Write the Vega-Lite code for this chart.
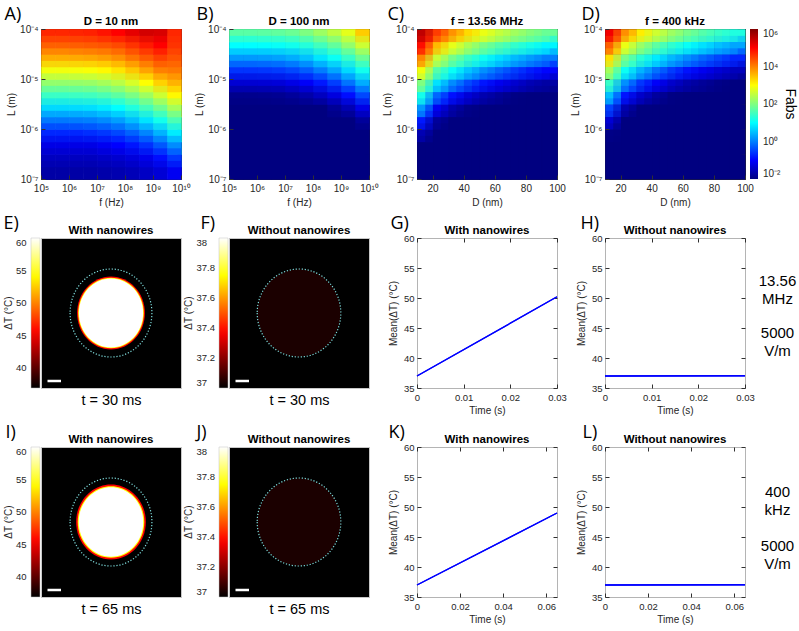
{
"$schema":"https://vega.github.io/schema/vega-lite/v6.json",
"padding":{"left":2,"top":4,"right":2,"bottom":2},
"columns":4,
"bounds":"flush",
"spacing":{"row":59,"column":48},
"resolve":{"scale":{"color":"independent","stroke":"independent","x":"independent","y":"independent"},"legend":{"color":"independent"}},
"config":{
 "font":"Liberation Sans",
 "view":{"stroke":"#262626"},
 "title":{"font":"Liberation Sans","fontSize":11.5,"fontWeight":"bold","offset":3,"dy":25,"anchor":"middle","color":"black"},
 "axis":{"labelFont":"Liberation Sans","labelFontSize":9.5,"labelColor":"#262626","titleFont":"Liberation Sans","titleFontSize":10,"titleFontWeight":"normal","titleColor":"#262626","grid":false,"domain":false,"tickSize":-4,"tickColor":"#303030","labelFlush":false,"labelOverlap":false},
 "axisX":{"labelPadding":8,"titlePadding":4},
 "axisY":{"labelPadding":7,"titlePadding":3},
 "axisTop":{"labels":false,"titleAlign":"left","titleBaseline":"alphabetic","titleAngle":0,"titleFont":"Open Sans","titleFontSize":18,"titleFontWeight":"normal","titleColor":"black","titleY":-10},
 "axisRight":{"labels":false},
 "legend":{"labelFont":"Liberation Sans","titleFont":"Liberation Sans","labelFontSize":9.5,"labelColor":"#262626","titleColor":"#262626","labelOverlap":false,"titleFontWeight":"normal"}
},
"datasets":{
"A":[
{"x":5,"y":-7,"v":-1.7},{"x":5,"y":-6.75,"v":-1.5},{"x":5,"y":-6.5,"v":-1.2},{"x":5,"y":-6.25,"v":-0.7},{"x":5,"y":-6,"v":-0.05},{"x":5,"y":-5.75,"v":0.7},{"x":5,"y":-5.5,"v":1.45},{"x":5,"y":-5.25,"v":2.15},{"x":5,"y":-5,"v":2.9},{"x":5,"y":-4.75,"v":3.65},{"x":5,"y":-4.5,"v":4.25},{"x":5,"y":-4.25,"v":4.7},
{"x":5.5,"y":-7,"v":-1.7},{"x":5.5,"y":-6.75,"v":-1.5},{"x":5.5,"y":-6.5,"v":-1.2},{"x":5.5,"y":-6.25,"v":-0.7},{"x":5.5,"y":-6,"v":-0.05},{"x":5.5,"y":-5.75,"v":0.7},{"x":5.5,"y":-5.5,"v":1.45},{"x":5.5,"y":-5.25,"v":2.15},{"x":5.5,"y":-5,"v":2.9},{"x":5.5,"y":-4.75,"v":3.65},{"x":5.5,"y":-4.5,"v":4.25},{"x":5.5,"y":-4.25,"v":4.7},
{"x":6,"y":-7,"v":-1.7},{"x":6,"y":-6.75,"v":-1.5},{"x":6,"y":-6.5,"v":-1.2},{"x":6,"y":-6.25,"v":-0.7},{"x":6,"y":-6,"v":-0.03},{"x":6,"y":-5.75,"v":0.72},{"x":6,"y":-5.5,"v":1.47},{"x":6,"y":-5.25,"v":2.17},{"x":6,"y":-5,"v":2.92},{"x":6,"y":-4.75,"v":3.67},{"x":6,"y":-4.5,"v":4.27},{"x":6,"y":-4.25,"v":4.72},
{"x":6.5,"y":-7,"v":-1.7},{"x":6.5,"y":-6.75,"v":-1.5},{"x":6.5,"y":-6.5,"v":-1.2},{"x":6.5,"y":-6.25,"v":-0.65},{"x":6.5,"y":-6,"v":0},{"x":6.5,"y":-5.75,"v":0.75},{"x":6.5,"y":-5.5,"v":1.5},{"x":6.5,"y":-5.25,"v":2.2},{"x":6.5,"y":-5,"v":2.95},{"x":6.5,"y":-4.75,"v":3.7},{"x":6.5,"y":-4.5,"v":4.3},{"x":6.5,"y":-4.25,"v":4.75},
{"x":7,"y":-7,"v":-1.66},{"x":7,"y":-6.75,"v":-1.44},{"x":7,"y":-6.5,"v":-1.1},{"x":7,"y":-6.25,"v":-0.57},{"x":7,"y":-6,"v":0.1},{"x":7,"y":-5.75,"v":0.85},{"x":7,"y":-5.5,"v":1.59},{"x":7,"y":-5.25,"v":2.3},{"x":7,"y":-5,"v":3.05},{"x":7,"y":-4.75,"v":3.77},{"x":7,"y":-4.5,"v":4.34},{"x":7,"y":-4.25,"v":4.85},
{"x":7.5,"y":-7,"v":-1.62},{"x":7.5,"y":-6.75,"v":-1.38},{"x":7.5,"y":-6.5,"v":-1},{"x":7.5,"y":-6.25,"v":-0.44},{"x":7.5,"y":-6,"v":0.25},{"x":7.5,"y":-5.75,"v":1},{"x":7.5,"y":-5.5,"v":1.73},{"x":7.5,"y":-5.25,"v":2.45},{"x":7.5,"y":-5,"v":3.2},{"x":7.5,"y":-4.75,"v":3.89},{"x":7.5,"y":-4.5,"v":4.43},{"x":7.5,"y":-4.25,"v":5},
{"x":8,"y":-7,"v":-1.56},{"x":8,"y":-6.75,"v":-1.28},{"x":8,"y":-6.5,"v":-0.84},{"x":8,"y":-6.25,"v":-0.23},{"x":8,"y":-6,"v":0.49},{"x":8,"y":-5.75,"v":1.25},{"x":8,"y":-5.5,"v":1.96},{"x":8,"y":-5.25,"v":2.69},{"x":8,"y":-5,"v":3.44},{"x":8,"y":-4.75,"v":4.09},{"x":8,"y":-4.5,"v":4.6},{"x":8,"y":-4.25,"v":5.2},
{"x":8.5,"y":-7,"v":-1.46},{"x":8.5,"y":-6.75,"v":-1.15},{"x":8.5,"y":-6.5,"v":-0.62},{"x":8.5,"y":-6.25,"v":0.04},{"x":8.5,"y":-6,"v":0.79},{"x":8.5,"y":-5.75,"v":1.53},{"x":8.5,"y":-5.5,"v":2.24},{"x":8.5,"y":-5.25,"v":2.99},{"x":8.5,"y":-5,"v":3.72},{"x":8.5,"y":-4.75,"v":4.3},{"x":8.5,"y":-4.5,"v":4.8},{"x":8.5,"y":-4.25,"v":5.35},
{"x":9,"y":-7,"v":-1.32},{"x":9,"y":-6.75,"v":-0.9},{"x":9,"y":-6.5,"v":-0.32},{"x":9,"y":-6.25,"v":0.4},{"x":9,"y":-6,"v":1.15},{"x":9,"y":-5.75,"v":1.87},{"x":9,"y":-5.5,"v":2.6},{"x":9,"y":-5.25,"v":3.35},{"x":9,"y":-5,"v":4},{"x":9,"y":-4.75,"v":4.5},{"x":9,"y":-4.5,"v":5},{"x":9,"y":-4.25,"v":5.3},
{"x":9.5,"y":-7,"v":-1.1},{"x":9.5,"y":-6.75,"v":-0.57},{"x":9.5,"y":-6.5,"v":0.1},{"x":9.5,"y":-6.25,"v":0.85},{"x":9.5,"y":-6,"v":1.59},{"x":9.5,"y":-5.75,"v":2.3},{"x":9.5,"y":-5.5,"v":3.05},{"x":9.5,"y":-5.25,"v":3.6},{"x":9.5,"y":-5,"v":4.05},{"x":9.5,"y":-4.75,"v":4.35},{"x":9.5,"y":-4.5,"v":4.6},{"x":9.5,"y":-4.25,"v":4.7}
],
"B":[
{"x":5,"y":-7,"v":-2.5},{"x":5,"y":-6.75,"v":-2.5},{"x":5,"y":-6.5,"v":-2.5},{"x":5,"y":-6.25,"v":-2.5},{"x":5,"y":-6,"v":-2.5},{"x":5,"y":-5.75,"v":-2.3},{"x":5,"y":-5.5,"v":-1.9},{"x":5,"y":-5.25,"v":-1.35},{"x":5,"y":-5,"v":-0.6},{"x":5,"y":-4.75,"v":0.2},{"x":5,"y":-4.5,"v":1},{"x":5,"y":-4.25,"v":1.7},
{"x":5.5,"y":-7,"v":-2.5},{"x":5.5,"y":-6.75,"v":-2.5},{"x":5.5,"y":-6.5,"v":-2.5},{"x":5.5,"y":-6.25,"v":-2.5},{"x":5.5,"y":-6,"v":-2.5},{"x":5.5,"y":-5.75,"v":-2.3},{"x":5.5,"y":-5.5,"v":-1.9},{"x":5.5,"y":-5.25,"v":-1.35},{"x":5.5,"y":-5,"v":-0.6},{"x":5.5,"y":-4.75,"v":0.2},{"x":5.5,"y":-4.5,"v":1},{"x":5.5,"y":-4.25,"v":1.7},
{"x":6,"y":-7,"v":-2.5},{"x":6,"y":-6.75,"v":-2.5},{"x":6,"y":-6.5,"v":-2.5},{"x":6,"y":-6.25,"v":-2.5},{"x":6,"y":-6,"v":-2.5},{"x":6,"y":-5.75,"v":-2.29},{"x":6,"y":-5.5,"v":-1.88},{"x":6,"y":-5.25,"v":-1.33},{"x":6,"y":-5,"v":-0.58},{"x":6,"y":-4.75,"v":0.22},{"x":6,"y":-4.5,"v":1.02},{"x":6,"y":-4.25,"v":1.72},
{"x":6.5,"y":-7,"v":-2.5},{"x":6.5,"y":-6.75,"v":-2.5},{"x":6.5,"y":-6.5,"v":-2.5},{"x":6.5,"y":-6.25,"v":-2.5},{"x":6.5,"y":-6,"v":-2.5},{"x":6.5,"y":-5.75,"v":-2.27},{"x":6.5,"y":-5.5,"v":-1.86},{"x":6.5,"y":-5.25,"v":-1.3},{"x":6.5,"y":-5,"v":-0.54},{"x":6.5,"y":-4.75,"v":0.26},{"x":6.5,"y":-4.5,"v":1.06},{"x":6.5,"y":-4.25,"v":1.76},
{"x":7,"y":-7,"v":-2.5},{"x":7,"y":-6.75,"v":-2.5},{"x":7,"y":-6.5,"v":-2.5},{"x":7,"y":-6.25,"v":-2.5},{"x":7,"y":-6,"v":-2.46},{"x":7,"y":-5.75,"v":-2.22},{"x":7,"y":-5.5,"v":-1.79},{"x":7,"y":-5.25,"v":-1.2},{"x":7,"y":-5,"v":-0.44},{"x":7,"y":-4.75,"v":0.36},{"x":7,"y":-4.5,"v":1.14},{"x":7,"y":-4.25,"v":1.84},
{"x":7.5,"y":-7,"v":-2.5},{"x":7.5,"y":-6.75,"v":-2.5},{"x":7.5,"y":-6.5,"v":-2.5},{"x":7.5,"y":-6.25,"v":-2.5},{"x":7.5,"y":-6,"v":-2.4},{"x":7.5,"y":-5.75,"v":-2.14},{"x":7.5,"y":-5.5,"v":-1.68},{"x":7.5,"y":-5.25,"v":-1.05},{"x":7.5,"y":-5,"v":-0.28},{"x":7.5,"y":-4.75,"v":0.52},{"x":7.5,"y":-4.5,"v":1.28},{"x":7.5,"y":-4.25,"v":1.98},
{"x":8,"y":-7,"v":-2.5},{"x":8,"y":-6.75,"v":-2.5},{"x":8,"y":-6.5,"v":-2.5},{"x":8,"y":-6.25,"v":-2.5},{"x":8,"y":-6,"v":-2.35},{"x":8,"y":-5.75,"v":-2.01},{"x":8,"y":-5.5,"v":-1.5},{"x":8,"y":-5.25,"v":-0.82},{"x":8,"y":-5,"v":-0.02},{"x":8,"y":-4.75,"v":0.8},{"x":8,"y":-4.5,"v":1.51},{"x":8,"y":-4.25,"v":2.22},
{"x":8.5,"y":-7,"v":-2.5},{"x":8.5,"y":-6.75,"v":-2.5},{"x":8.5,"y":-6.5,"v":-2.5},{"x":8.5,"y":-6.25,"v":-2.45},{"x":8.5,"y":-6,"v":-2.25},{"x":8.5,"y":-5.75,"v":-1.83},{"x":8.5,"y":-5.5,"v":-1.25},{"x":8.5,"y":-5.25,"v":-0.52},{"x":8.5,"y":-5,"v":0.3},{"x":8.5,"y":-4.75,"v":1.08},{"x":8.5,"y":-4.5,"v":1.77},{"x":8.5,"y":-4.25,"v":2.48},
{"x":9,"y":-7,"v":-2.5},{"x":9,"y":-6.75,"v":-2.5},{"x":9,"y":-6.5,"v":-2.5},{"x":9,"y":-6.25,"v":-2.35},{"x":9,"y":-6,"v":-2.05},{"x":9,"y":-5.75,"v":-1.6},{"x":9,"y":-5.5,"v":-0.9},{"x":9,"y":-5.25,"v":-0.1},{"x":9,"y":-5,"v":0.7},{"x":9,"y":-4.75,"v":1.42},{"x":9,"y":-4.5,"v":2.15},{"x":9,"y":-4.25,"v":2.8},
{"x":9.5,"y":-7,"v":-2.5},{"x":9.5,"y":-6.75,"v":-2.5},{"x":9.5,"y":-6.5,"v":-2.45},{"x":9.5,"y":-6.25,"v":-2.22},{"x":9.5,"y":-6,"v":-1.79},{"x":9.5,"y":-5.75,"v":-1.2},{"x":9.5,"y":-5.5,"v":-0.44},{"x":9.5,"y":-5.25,"v":0.36},{"x":9.5,"y":-5,"v":1.14},{"x":9.5,"y":-4.75,"v":1.84},{"x":9.5,"y":-4.5,"v":2.6},{"x":9.5,"y":-4.25,"v":3.4}
],
"C":[
{"x":10,"y":-7,"v":-2.5},{"x":10,"y":-6.75,"v":-2.5},{"x":10,"y":-6.5,"v":-2.1},{"x":10,"y":-6.25,"v":-1.6},{"x":10,"y":-6,"v":-0.8},{"x":10,"y":-5.75,"v":0.2},{"x":10,"y":-5.5,"v":1.15},{"x":10,"y":-5.25,"v":2},{"x":10,"y":-5,"v":2.9},{"x":10,"y":-4.75,"v":3.95},{"x":10,"y":-4.5,"v":4.9},{"x":10,"y":-4.25,"v":5.5},
{"x":20,"y":-7,"v":-2.5},{"x":20,"y":-6.75,"v":-2.5},{"x":20,"y":-6.5,"v":-2.5},{"x":20,"y":-6.25,"v":-2.26},{"x":20,"y":-6,"v":-1.79},{"x":20,"y":-5.75,"v":-1.11},{"x":20,"y":-5.5,"v":-0.19},{"x":20,"y":-5.25,"v":0.78},{"x":20,"y":-5,"v":1.67},{"x":20,"y":-4.75,"v":2.55},{"x":20,"y":-4.5,"v":3.54},{"x":20,"y":-4.25,"v":4.53},
{"x":30,"y":-7,"v":-2.5},{"x":30,"y":-6.75,"v":-2.5},{"x":30,"y":-6.5,"v":-2.5},{"x":30,"y":-6.25,"v":-2.5},{"x":30,"y":-6,"v":-2.14},{"x":30,"y":-5.75,"v":-1.65},{"x":30,"y":-5.5,"v":-0.88},{"x":30,"y":-5.25,"v":0.1},{"x":30,"y":-5,"v":1.06},{"x":30,"y":-4.75,"v":1.92},{"x":30,"y":-4.5,"v":2.81},{"x":30,"y":-4.25,"v":3.85},
{"x":40,"y":-7,"v":-2.5},{"x":40,"y":-6.75,"v":-2.5},{"x":40,"y":-6.5,"v":-2.5},{"x":40,"y":-6.25,"v":-2.5},{"x":40,"y":-6,"v":-2.35},{"x":40,"y":-5.75,"v":-1.92},{"x":40,"y":-5.5,"v":-1.31},{"x":40,"y":-5.25,"v":-0.43},{"x":40,"y":-5,"v":0.55},{"x":40,"y":-4.75,"v":1.46},{"x":40,"y":-4.5,"v":2.33},{"x":40,"y":-4.25,"v":3.29},
{"x":50,"y":-7,"v":-2.5},{"x":50,"y":-6.75,"v":-2.5},{"x":50,"y":-6.5,"v":-2.5},{"x":50,"y":-6.25,"v":-2.5},{"x":50,"y":-6,"v":-2.5},{"x":50,"y":-5.75,"v":-2.12},{"x":50,"y":-5.5,"v":-1.63},{"x":50,"y":-5.25,"v":-0.84},{"x":50,"y":-5,"v":0.14},{"x":50,"y":-4.75,"v":1.1},{"x":50,"y":-4.5,"v":1.95},{"x":50,"y":-4.25,"v":2.85},
{"x":60,"y":-7,"v":-2.5},{"x":60,"y":-6.75,"v":-2.5},{"x":60,"y":-6.5,"v":-2.5},{"x":60,"y":-6.25,"v":-2.5},{"x":60,"y":-6,"v":-2.5},{"x":60,"y":-5.75,"v":-2.26},{"x":60,"y":-5.5,"v":-1.81},{"x":60,"y":-5.25,"v":-1.13},{"x":60,"y":-5,"v":-0.21},{"x":60,"y":-4.75,"v":0.76},{"x":60,"y":-4.5,"v":1.65},{"x":60,"y":-4.25,"v":2.53},
{"x":70,"y":-7,"v":-2.5},{"x":70,"y":-6.75,"v":-2.5},{"x":70,"y":-6.5,"v":-2.5},{"x":70,"y":-6.25,"v":-2.5},{"x":70,"y":-6,"v":-2.5},{"x":70,"y":-5.75,"v":-2.39},{"x":70,"y":-5.5,"v":-1.96},{"x":70,"y":-5.25,"v":-1.37},{"x":70,"y":-5,"v":-0.52},{"x":70,"y":-4.75,"v":0.47},{"x":70,"y":-4.5,"v":1.39},{"x":70,"y":-4.25,"v":2.26},
{"x":80,"y":-7,"v":-2.5},{"x":80,"y":-6.75,"v":-2.5},{"x":80,"y":-6.5,"v":-2.5},{"x":80,"y":-6.25,"v":-2.5},{"x":80,"y":-6,"v":-2.5},{"x":80,"y":-5.75,"v":-2.5},{"x":80,"y":-5.5,"v":-2.09},{"x":80,"y":-5.25,"v":-1.58},{"x":80,"y":-5,"v":-0.78},{"x":80,"y":-4.75,"v":0.22},{"x":80,"y":-4.5,"v":1.17},{"x":80,"y":-4.25,"v":2.02},
{"x":90,"y":-7,"v":-2.5},{"x":90,"y":-6.75,"v":-2.5},{"x":90,"y":-6.5,"v":-2.5},{"x":90,"y":-6.25,"v":-2.5},{"x":90,"y":-6,"v":-2.5},{"x":90,"y":-5.75,"v":-2.5},{"x":90,"y":-5.5,"v":-2.19},{"x":90,"y":-5.25,"v":-1.71},{"x":90,"y":-5,"v":-0.97},{"x":90,"y":-4.75,"v":-0.02},{"x":90,"y":-4.5,"v":0.94},{"x":90,"y":-4.25,"v":1.82}
],
"D":[
{"x":10,"y":-7,"v":-2.5},{"x":10,"y":-6.75,"v":-2.5},{"x":10,"y":-6.5,"v":-2.37},{"x":10,"y":-6.25,"v":-1.94},{"x":10,"y":-6,"v":-1.34},{"x":10,"y":-5.75,"v":-0.48},{"x":10,"y":-5.5,"v":0.5},{"x":10,"y":-5.25,"v":1.42},{"x":10,"y":-5,"v":2.29},{"x":10,"y":-4.75,"v":3.24},{"x":10,"y":-4.5,"v":4.25},{"x":10,"y":-4.25,"v":5.09},
{"x":20,"y":-7,"v":-2.5},{"x":20,"y":-6.75,"v":-2.5},{"x":20,"y":-6.5,"v":-2.5},{"x":20,"y":-6.25,"v":-2.5},{"x":20,"y":-6,"v":-2.13},{"x":20,"y":-5.75,"v":-1.63},{"x":20,"y":-5.5,"v":-0.85},{"x":20,"y":-5.25,"v":0.13},{"x":20,"y":-5,"v":1.09},{"x":20,"y":-4.75,"v":1.94},{"x":20,"y":-4.5,"v":2.84},{"x":20,"y":-4.25,"v":3.88},
{"x":30,"y":-7,"v":-2.5},{"x":30,"y":-6.75,"v":-2.5},{"x":30,"y":-6.5,"v":-2.5},{"x":30,"y":-6.25,"v":-2.5},{"x":30,"y":-6,"v":-2.41},{"x":30,"y":-5.75,"v":-1.99},{"x":30,"y":-5.5,"v":-1.42},{"x":30,"y":-5.25,"v":-0.58},{"x":30,"y":-5,"v":0.41},{"x":30,"y":-4.75,"v":1.34},{"x":30,"y":-4.5,"v":2.2},{"x":30,"y":-4.25,"v":3.13},
{"x":40,"y":-7,"v":-2.5},{"x":40,"y":-6.75,"v":-2.5},{"x":40,"y":-6.5,"v":-2.5},{"x":40,"y":-6.25,"v":-2.5},{"x":40,"y":-6,"v":-2.5},{"x":40,"y":-5.75,"v":-2.22},{"x":40,"y":-5.5,"v":-1.76},{"x":40,"y":-5.25,"v":-1.05},{"x":40,"y":-5,"v":-0.11},{"x":40,"y":-4.75,"v":0.85},{"x":40,"y":-4.5,"v":1.73},{"x":40,"y":-4.25,"v":2.62},
{"x":50,"y":-7,"v":-2.5},{"x":50,"y":-6.75,"v":-2.5},{"x":50,"y":-6.5,"v":-2.5},{"x":50,"y":-6.25,"v":-2.5},{"x":50,"y":-6,"v":-2.5},{"x":50,"y":-5.75,"v":-2.39},{"x":50,"y":-5.5,"v":-1.97},{"x":50,"y":-5.25,"v":-1.39},{"x":50,"y":-5,"v":-0.54},{"x":50,"y":-4.75,"v":0.45},{"x":50,"y":-4.5,"v":1.37},{"x":50,"y":-4.25,"v":2.24},
{"x":60,"y":-7,"v":-2.5},{"x":60,"y":-6.75,"v":-2.5},{"x":60,"y":-6.5,"v":-2.5},{"x":60,"y":-6.25,"v":-2.5},{"x":60,"y":-6,"v":-2.5},{"x":60,"y":-5.75,"v":-2.5},{"x":60,"y":-5.5,"v":-2.14},{"x":60,"y":-5.25,"v":-1.65},{"x":60,"y":-5,"v":-0.87},{"x":60,"y":-4.75,"v":0.11},{"x":60,"y":-4.5,"v":1.06},{"x":60,"y":-4.25,"v":1.92},
{"x":70,"y":-7,"v":-2.5},{"x":70,"y":-6.75,"v":-2.5},{"x":70,"y":-6.5,"v":-2.5},{"x":70,"y":-6.25,"v":-2.5},{"x":70,"y":-6,"v":-2.5},{"x":70,"y":-5.75,"v":-2.5},{"x":70,"y":-5.5,"v":-2.26},{"x":70,"y":-5.25,"v":-1.8},{"x":70,"y":-5,"v":-1.12},{"x":70,"y":-4.75,"v":-0.2},{"x":70,"y":-4.5,"v":0.77},{"x":70,"y":-4.25,"v":1.66},
{"x":80,"y":-7,"v":-2.5},{"x":80,"y":-6.75,"v":-2.5},{"x":80,"y":-6.5,"v":-2.5},{"x":80,"y":-6.25,"v":-2.5},{"x":80,"y":-6,"v":-2.5},{"x":80,"y":-5.75,"v":-2.5},{"x":80,"y":-5.5,"v":-2.36},{"x":80,"y":-5.25,"v":-1.93},{"x":80,"y":-5,"v":-1.33},{"x":80,"y":-4.75,"v":-0.46},{"x":80,"y":-4.5,"v":0.52},{"x":80,"y":-4.25,"v":1.44},
{"x":90,"y":-7,"v":-2.5},{"x":90,"y":-6.75,"v":-2.5},{"x":90,"y":-6.5,"v":-2.5},{"x":90,"y":-6.25,"v":-2.5},{"x":90,"y":-6,"v":-2.5},{"x":90,"y":-5.75,"v":-2.5},{"x":90,"y":-5.5,"v":-2.46},{"x":90,"y":-5.25,"v":-2.05},{"x":90,"y":-5,"v":-1.52},{"x":90,"y":-4.75,"v":-0.7},{"x":90,"y":-4.5,"v":0.3},{"x":90,"y":-4.25,"v":1.24}
]
},
"concat":[
{
 "width":140,"height":150,"title":"D = 10 nm","data":{"name":"A"},
 "layer":[
  {"mark":{"type":"rect","binSpacing":0,"strokeWidth":0.6},
   "encoding":{
    "x":{"field":"x","type":"quantitative","bin":{"binned":true,"step":0.5},"scale":{"domain":[5,10],"nice":false,"zero":false},"axis":{"title":"f (Hz)","labelFontSize":10,"values":[5,6,7,8,9,10],"labelExpr":"'10' + replace(replace(replace(replace(replace(replace(replace(replace(replace(replace(replace(datum.value + '','-','⁻'),'0','⁰'),'1','¹'),'2','²'),'3','³'),'4','⁴'),'5','⁵'),'6','⁶'),'7','⁷'),'8','⁸'),'9','⁹')"}},
    "y":{"field":"y","type":"quantitative","bin":{"binned":true,"step":0.25},"scale":{"domain":[-7,-4],"nice":false,"zero":false},"axis":{"title":"L (m)","labelFontSize":10,"values":[-7,-6,-5,-4],"labelExpr":"'10' + replace(replace(replace(replace(replace(replace(replace(replace(replace(replace(replace(datum.value + '','-','⁻'),'0','⁰'),'1','¹'),'2','²'),'3','³'),'4','⁴'),'5','⁵'),'6','⁶'),'7','⁷'),'8','⁸'),'9','⁹')"}},
    "color":{"field":"v","type":"quantitative","scale":{"type":"linear","domain":[-2,-1,1,3,5,6],"range":["#000080","#0000ff","#00ffff","#ffff00","#ff0000","#800000"],"clamp":true,"interpolate":"rgb"},"legend":null},
    "stroke":{"field":"v","type":"quantitative","scale":{"type":"linear","domain":[-2,-1,1,3,5,6],"range":["#000080","#0000ff","#00ffff","#ffff00","#ff0000","#800000"],"clamp":true,"interpolate":"rgb"},"legend":null}}},
  {"mark":{"type":"rect","binSpacing":0,"opacity":0.5,"yOffset":-6.25,"clip":true},
   "encoding":{
    "x":{"field":"x","type":"quantitative","bin":{"binned":true,"step":0.5},"axis":null},
    "y":{"field":"y","type":"quantitative","bin":{"binned":true,"step":0.25},"axis":null},
    "color":{"field":"v","type":"quantitative","legend":null}}},
  {"mark":{"type":"point","opacity":0},
   "encoding":{
    "x":{"field":"x","type":"quantitative","axis":{"orient":"top","title":"A)","titleX":-37}},
    "y":{"field":"y","type":"quantitative","axis":{"orient":"right","title":null}}}}
 ],
 "resolve":{"axis":{"x":"independent","y":"independent"}}
},
{
 "width":140,"height":150,"title":"D = 100 nm","data":{"name":"B"},
 "view":{"fill":"#000080"},
 "layer":[
  {"mark":{"type":"rect","binSpacing":0,"strokeWidth":0.6},
   "encoding":{
    "x":{"field":"x","type":"quantitative","bin":{"binned":true,"step":0.5},"scale":{"domain":[5,10],"nice":false,"zero":false},"axis":{"title":"f (Hz)","labelFontSize":10,"values":[5,6,7,8,9,10],"labelExpr":"'10' + replace(replace(replace(replace(replace(replace(replace(replace(replace(replace(replace(datum.value + '','-','⁻'),'0','⁰'),'1','¹'),'2','²'),'3','³'),'4','⁴'),'5','⁵'),'6','⁶'),'7','⁷'),'8','⁸'),'9','⁹')"}},
    "y":{"field":"y","type":"quantitative","bin":{"binned":true,"step":0.25},"scale":{"domain":[-7,-4],"nice":false,"zero":false},"axis":{"title":"L (m)","labelFontSize":10,"values":[-7,-6,-5,-4],"labelExpr":"'10' + replace(replace(replace(replace(replace(replace(replace(replace(replace(replace(replace(datum.value + '','-','⁻'),'0','⁰'),'1','¹'),'2','²'),'3','³'),'4','⁴'),'5','⁵'),'6','⁶'),'7','⁷'),'8','⁸'),'9','⁹')"}},
    "color":{"field":"v","type":"quantitative","scale":{"type":"linear","domain":[-2,-1,1,3,5,6],"range":["#000080","#0000ff","#00ffff","#ffff00","#ff0000","#800000"],"clamp":true,"interpolate":"rgb"},"legend":null},
    "stroke":{"field":"v","type":"quantitative","scale":{"type":"linear","domain":[-2,-1,1,3,5,6],"range":["#000080","#0000ff","#00ffff","#ffff00","#ff0000","#800000"],"clamp":true,"interpolate":"rgb"},"legend":null}}},
  {"mark":{"type":"rect","binSpacing":0,"opacity":0.5,"yOffset":-6.25,"clip":true},
   "encoding":{
    "x":{"field":"x","type":"quantitative","bin":{"binned":true,"step":0.5},"axis":null},
    "y":{"field":"y","type":"quantitative","bin":{"binned":true,"step":0.25},"axis":null},
    "color":{"field":"v","type":"quantitative","legend":null}}},
  {"mark":{"type":"point","opacity":0},
   "encoding":{
    "x":{"field":"x","type":"quantitative","axis":{"orient":"top","title":"B)","titleX":-33}},
    "y":{"field":"y","type":"quantitative","axis":{"orient":"right","title":null}}}}
 ],
 "resolve":{"axis":{"x":"independent","y":"independent"}}
},
{
 "width":140,"height":150,"title":"f = 13.56 MHz","data":{"name":"C"},
 "view":{"fill":"#000080"},
 "layer":[
  {"mark":{"type":"rect","binSpacing":0,"strokeWidth":0.6},
   "encoding":{
    "x":{"field":"x","type":"quantitative","bin":{"binned":true,"step":10},"scale":{"domain":[10,100],"nice":false,"zero":false},"axis":{"title":"D (nm)","labelFontSize":10,"values":[20,40,60,80,100]}},
    "y":{"field":"y","type":"quantitative","bin":{"binned":true,"step":0.25},"scale":{"domain":[-7,-4],"nice":false,"zero":false},"axis":{"title":"L (m)","labelFontSize":10,"values":[-7,-6,-5,-4],"labelExpr":"'10' + replace(replace(replace(replace(replace(replace(replace(replace(replace(replace(replace(datum.value + '','-','⁻'),'0','⁰'),'1','¹'),'2','²'),'3','³'),'4','⁴'),'5','⁵'),'6','⁶'),'7','⁷'),'8','⁸'),'9','⁹')"}},
    "color":{"field":"v","type":"quantitative","scale":{"type":"linear","domain":[-2,-1,1,3,5,6],"range":["#000080","#0000ff","#00ffff","#ffff00","#ff0000","#800000"],"clamp":true,"interpolate":"rgb"},"legend":null},
    "stroke":{"field":"v","type":"quantitative","scale":{"type":"linear","domain":[-2,-1,1,3,5,6],"range":["#000080","#0000ff","#00ffff","#ffff00","#ff0000","#800000"],"clamp":true,"interpolate":"rgb"},"legend":null}}},
  {"mark":{"type":"rect","binSpacing":0,"opacity":0.5,"yOffset":-6.25,"clip":true},
   "encoding":{
    "x":{"field":"x","type":"quantitative","bin":{"binned":true,"step":10},"axis":null},
    "y":{"field":"y","type":"quantitative","bin":{"binned":true,"step":0.25},"axis":null},
    "color":{"field":"v","type":"quantitative","legend":null}}},
  {"mark":{"type":"rect","binSpacing":0,"opacity":0.45,"xOffset":-7.8,"clip":true},
   "encoding":{
    "x":{"field":"x","type":"quantitative","bin":{"binned":true,"step":10},"axis":null},
    "y":{"field":"y","type":"quantitative","bin":{"binned":true,"step":0.25},"axis":null},
    "color":{"field":"v","type":"quantitative","legend":null}}},
  {"mark":{"type":"point","opacity":0},
   "encoding":{
    "x":{"field":"x","type":"quantitative","axis":{"orient":"top","title":"C)","titleX":-30,"values":[20,40,60,80,100]}},
    "y":{"field":"y","type":"quantitative","axis":{"orient":"right","title":null}}}}
 ],
 "resolve":{"axis":{"x":"independent","y":"independent"}}
},
{
 "width":140,"height":150,"title":"f = 400 kHz","data":{"name":"D"},
 "view":{"fill":"#000080"},
 "layer":[
  {"mark":{"type":"rect","binSpacing":0},
   "encoding":{
    "x":{"field":"x","type":"quantitative","bin":{"binned":true,"step":10},"scale":{"domain":[10,100],"nice":false,"zero":false},"axis":{"title":"D (nm)","labelFontSize":10,"values":[20,40,60,80,100]}},
    "y":{"field":"y","type":"quantitative","bin":{"binned":true,"step":0.25},"scale":{"domain":[-7,-4],"nice":false,"zero":false},"axis":{"title":"L (m)","labelFontSize":10,"values":[-7,-6,-5,-4],"labelExpr":"'10' + replace(replace(replace(replace(replace(replace(replace(replace(replace(replace(replace(datum.value + '','-','⁻'),'0','⁰'),'1','¹'),'2','²'),'3','³'),'4','⁴'),'5','⁵'),'6','⁶'),'7','⁷'),'8','⁸'),'9','⁹')"}},
    "color":{"field":"v","type":"quantitative","scale":{"type":"linear","domain":[-2,-1,1,3,5,6],"range":["#000080","#0000ff","#00ffff","#ffff00","#ff0000","#800000"],"clamp":true,"interpolate":"rgb"},
      "legend":{"type":"gradient","orient":"right","offset":4,"padding":0,"direction":"vertical","gradientLength":150,"gradientThickness":8,"values":[-2,0,2,4,6],"labelOffset":5,"labelFontSize":10,"labelExpr":"'10' + replace(replace(replace(replace(replace(replace(replace(replace(replace(replace(replace(datum.value + '','-','⁻'),'0','⁰'),'1','¹'),'2','²'),'3','³'),'4','⁴'),'5','⁵'),'6','⁶'),'7','⁷'),'8','⁸'),'9','⁹')","title":"Fabs","titleOrient":"right","titleAngle":270,"titleAnchor":"middle","titleFontSize":14,"titlePadding":3,"titleColor":"black","encode":{"gradient":{"opacity":{"value":1}}}}}}},
  {"mark":{"type":"rect","binSpacing":0,"opacity":0.5,"yOffset":-6.25,"clip":true},
   "encoding":{
    "x":{"field":"x","type":"quantitative","bin":{"binned":true,"step":10},"axis":null},
    "y":{"field":"y","type":"quantitative","bin":{"binned":true,"step":0.25},"axis":null},
    "color":{"field":"v","type":"quantitative"}}},
  {"mark":{"type":"rect","binSpacing":0,"opacity":0.45,"xOffset":-7.8,"clip":true},
   "encoding":{
    "x":{"field":"x","type":"quantitative","bin":{"binned":true,"step":10},"axis":null},
    "y":{"field":"y","type":"quantitative","bin":{"binned":true,"step":0.25},"axis":null},
    "color":{"field":"v","type":"quantitative"}}},
  {"mark":{"type":"point","opacity":0},
   "encoding":{
    "x":{"field":"x","type":"quantitative","axis":{"orient":"top","title":"D)","titleX":-24,"values":[20,40,60,80,100]}},
    "y":{"field":"y","type":"quantitative","axis":{"orient":"right","title":null}}}}
 ],
 "resolve":{"axis":{"x":"independent","y":"independent"}}
},
{
 "width":140,"height":150,"title":"With nanowires",
 "view":{"fill":"black","stroke":"#c8c8c8"},
 "layer":[
  {"data":{"values":[{"x":0,"y":0,"T":45.6}]},
   "mark":{"type":"point","shape":"M-0.93,0A0.93,1,0,1,0,0.93,0A0.93,1,0,1,0,-0.93,0Z","size":5329,"filled":true,"opacity":1,"strokeWidth":0},
   "encoding":{
    "x":{"field":"x","type":"quantitative","scale":{"domain":[-70,70],"nice":false,"zero":false},"axis":{"title":"t = 30 ms","labels":false,"ticks":false,"titleFontSize":14.5,"titleColor":"black","titlePadding":5}},
    "y":{"field":"y","type":"quantitative","scale":{"domain":[-75,75],"nice":false,"zero":false},"axis":null},
    "color":{"field":"T","type":"quantitative","scale":{"type":"linear","domain":[37,45.625,54.25,60],"range":["#000000","#ff0000","#ffff00","#ffffff"],"clamp":true,"interpolate":"rgb"},
      "legend":{"type":"gradient","orient":"left","offset":0,"padding":0,"direction":"vertical","gradientLength":150,"gradientThickness":9,"values":[40,45,50,55,60],"labelOffset":-24,"title":"ΔT (°C)","titleOrient":"left","titleAngle":270,"titleAnchor":"middle","titlePadding":16,"titleFontSize":10,"gradientStrokeColor":"#c0c0c0","gradientStrokeWidth":0.5}}}},
  {"data":{"values":[{"x":0,"y":0,"T":54.3}]},
   "mark":{"type":"point","shape":"M-0.93,0A0.93,1,0,1,0,0.93,0A0.93,1,0,1,0,-0.93,0Z","size":4984,"filled":true,"opacity":1,"strokeWidth":0},
   "encoding":{"x":{"field":"x","type":"quantitative","axis":null},"y":{"field":"y","type":"quantitative","axis":null},
    "color":{"field":"T","type":"quantitative"}}},
  {"data":{"values":[{"x":0,"y":0,"T":60}]},
   "mark":{"type":"point","shape":"M-0.93,0A0.93,1,0,1,0,0.93,0A0.93,1,0,1,0,-0.93,0Z","size":4761,"filled":true,"opacity":1,"strokeWidth":0},
   "encoding":{"x":{"field":"x","type":"quantitative","axis":null},"y":{"field":"y","type":"quantitative","axis":null},
    "color":{"field":"T","type":"quantitative"}}},
  {"data":{"values":[{"x":0,"y":0}]},
   "mark":{"type":"point","shape":"M-0.93,0A0.93,1,0,1,0,0.93,0A0.93,1,0,1,0,-0.93,0Z","size":7744,"filled":false,"stroke":"#7fdede","strokeWidth":1.2,"strokeDash":[1.2,1.8],"opacity":1},
   "encoding":{"x":{"field":"x","type":"quantitative","axis":{"orient":"top","title":"E)","titleX":-38,"ticks":false}},"y":{"field":"y","type":"quantitative","axis":null}}},
  {"data":{"values":[{"x":-63.5,"x2":-50,"y":-68}]},
   "mark":{"type":"rule","color":"white","strokeWidth":2.5},
   "encoding":{"x":{"field":"x","type":"quantitative","axis":null},"x2":{"field":"x2"},"y":{"field":"y","type":"quantitative","axis":null}}}
 ],
 "resolve":{"axis":{"x":"independent"}}
},
{
 "width":140,"height":150,"title":"Without nanowires",
 "view":{"fill":"black","stroke":"#c8c8c8"},
 "layer":[
  {"data":{"values":[{"x":0,"y":0,"T":37.04}]},
   "mark":{"type":"point","shape":"M-0.95,0A0.95,1,0,1,0,0.95,0A0.95,1,0,1,0,-0.95,0Z","size":7640,"filled":true,"opacity":1,"strokeWidth":0},
   "encoding":{
    "x":{"field":"x","type":"quantitative","scale":{"domain":[-70,70],"nice":false,"zero":false},"axis":{"title":"t = 30 ms","labels":false,"ticks":false,"titleFontSize":14.5,"titleColor":"black","titlePadding":5}},
    "y":{"field":"y","type":"quantitative","scale":{"domain":[-75,75],"nice":false,"zero":false},"axis":null},
    "color":{"field":"T","type":"quantitative","scale":{"type":"linear","domain":[37,37.375,37.75,38],"range":["#000000","#ff0000","#ffff00","#ffffff"],"clamp":true,"interpolate":"rgb"},
      "legend":{"type":"gradient","orient":"left","offset":0,"padding":0,"direction":"vertical","gradientLength":150,"gradientThickness":9,"values":[37,37.2,37.4,37.6,37.8,38],"format":"~g","labelExpr":"(datum.value == 37 || datum.value == 38) ? '\u2007\u2008' + datum.label : datum.label","labelOffset":-31.5,"title":"ΔT (°C)","titleOrient":"left","titleAngle":270,"titleAnchor":"middle","titlePadding":24,"titleFontSize":10,"gradientStrokeColor":"#c0c0c0","gradientStrokeWidth":0.5}}}},
  {"data":{"values":[{"x":0,"y":0}]},
   "mark":{"type":"point","shape":"M-0.95,0A0.95,1,0,1,0,0.95,0A0.95,1,0,1,0,-0.95,0Z","size":7744,"filled":false,"stroke":"#7fdede","strokeWidth":1.2,"strokeDash":[1.2,1.8],"opacity":1},
   "encoding":{"x":{"field":"x","type":"quantitative","axis":{"orient":"top","title":"F)","titleX":-29,"ticks":false}},"y":{"field":"y","type":"quantitative","axis":null}}},
  {"data":{"values":[{"x":-63.5,"x2":-50,"y":-68}]},
   "mark":{"type":"rule","color":"white","strokeWidth":2.5},
   "encoding":{"x":{"field":"x","type":"quantitative","axis":null},"x2":{"field":"x2"},"y":{"field":"y","type":"quantitative","axis":null}}}
 ],
 "resolve":{"axis":{"x":"independent"}}
},
{
 "width":140,"height":150,"title":"With nanowires",
 "data":{"values":[{"t":0,"T":37},{"t":0.03,"T":50.2}]},
 "view":{"stroke":"#b4b4b4"},
 "layer":[
  {"mark":{"type":"line","color":"#0000ff","strokeWidth":1.3},
   "encoding":{"x":{"field":"t","type":"quantitative","scale":{"domain":[0,0.03],"nice":false,"zero":false},"axis":{"title":"Time (s)","values":[0,0.01,0.02,0.03],"format":"~g"}},
    "y":{"field":"T","type":"quantitative","scale":{"domain":[35,60],"nice":false,"zero":false},"axis":{"title":"Mean(ΔT)  (°C)","values":[35,40,45,50,55,60],"titlePadding":5}}}},
  {"mark":{"type":"line","color":"#0000ff","strokeWidth":1.3},
   "encoding":{"x":{"field":"t","type":"quantitative","axis":{"orient":"top","title":"G)","titleX":-27,"values":[0,0.01,0.02,0.03]}},
    "y":{"field":"T","type":"quantitative","axis":{"orient":"right","title":null,"values":[35,40,45,50,55,60]}}}}
 ],
 "resolve":{"axis":{"x":"independent","y":"independent"}}
},
{
 "width":140,"height":150,"title":"Without nanowires",
 "data":{"values":[{"t":0,"T":37},{"t":0.03,"T":37.05}]},
 "view":{"stroke":"#b4b4b4"},
 "layer":[
  {"mark":{"type":"line","color":"#0000ff","strokeWidth":1.6},
   "encoding":{"x":{"field":"t","type":"quantitative","scale":{"domain":[0,0.03],"nice":false,"zero":false},"axis":{"title":"Time (s)","values":[0,0.01,0.02,0.03],"format":"~g"}},
    "y":{"field":"T","type":"quantitative","scale":{"domain":[35,60],"nice":false,"zero":false},"axis":{"title":"Mean(ΔT)  (°C)","values":[35,40,45,50,55,60],"titlePadding":5}}}},
  {"mark":{"type":"line","color":"#0000ff","strokeWidth":1.6},
   "encoding":{"x":{"field":"t","type":"quantitative","axis":{"orient":"top","title":"H)","titleX":-25,"values":[0,0.01,0.02,0.03]}},
    "y":{"field":"T","type":"quantitative","axis":{"orient":"right","values":[35,40,45,50,55,60],"title":["13.56","MHz"],"titleAngle":0,"titleX":32,"titleY":42,"titleAlign":"center","titleBaseline":"middle","titleFontSize":15,"titleLineHeight":18,"titleColor":"black"}}}},
  {"mark":{"type":"line","opacity":0},
   "encoding":{"x":{"field":"t","type":"quantitative","axis":null},
    "y":{"field":"T","type":"quantitative","axis":{"orient":"right","ticks":false,"title":["5000","V/m"],"titleAngle":0,"titleX":32,"titleY":94,"titleAlign":"center","titleBaseline":"middle","titleFontSize":15,"titleLineHeight":18,"titleColor":"black"}}}}
 ],
 "resolve":{"axis":{"x":"independent","y":"independent"}}
},
{
 "width":140,"height":150,"title":"With nanowires",
 "view":{"fill":"black","stroke":"#c8c8c8"},
 "layer":[
  {"data":{"values":[{"x":0,"y":0,"T":45.6}]},
   "mark":{"type":"point","shape":"M-0.93,0A0.93,1,0,1,0,0.93,0A0.93,1,0,1,0,-0.93,0Z","size":5625,"filled":true,"opacity":1,"strokeWidth":0},
   "encoding":{
    "x":{"field":"x","type":"quantitative","scale":{"domain":[-70,70],"nice":false,"zero":false},"axis":{"title":"t = 65 ms","labels":false,"ticks":false,"titleFontSize":14.5,"titleColor":"black","titlePadding":5}},
    "y":{"field":"y","type":"quantitative","scale":{"domain":[-75,75],"nice":false,"zero":false},"axis":null},
    "color":{"field":"T","type":"quantitative","scale":{"type":"linear","domain":[37,45.625,54.25,60],"range":["#000000","#ff0000","#ffff00","#ffffff"],"clamp":true,"interpolate":"rgb"},
      "legend":{"type":"gradient","orient":"left","offset":0,"padding":0,"direction":"vertical","gradientLength":150,"gradientThickness":9,"values":[40,45,50,55,60],"labelOffset":-24,"title":"ΔT (°C)","titleOrient":"left","titleAngle":270,"titleAnchor":"middle","titlePadding":16,"titleFontSize":10,"gradientStrokeColor":"#c0c0c0","gradientStrokeWidth":0.5}}}},
  {"data":{"values":[{"x":0,"y":0,"T":54.3}]},
   "mark":{"type":"point","shape":"M-0.93,0A0.93,1,0,1,0,0.93,0A0.93,1,0,1,0,-0.93,0Z","size":5127,"filled":true,"opacity":1,"strokeWidth":0},
   "encoding":{"x":{"field":"x","type":"quantitative","axis":null},"y":{"field":"y","type":"quantitative","axis":null},
    "color":{"field":"T","type":"quantitative"}}},
  {"data":{"values":[{"x":0,"y":0,"T":60}]},
   "mark":{"type":"point","shape":"M-0.93,0A0.93,1,0,1,0,0.93,0A0.93,1,0,1,0,-0.93,0Z","size":4816,"filled":true,"opacity":1,"strokeWidth":0},
   "encoding":{"x":{"field":"x","type":"quantitative","axis":null},"y":{"field":"y","type":"quantitative","axis":null},
    "color":{"field":"T","type":"quantitative"}}},
  {"data":{"values":[{"x":0,"y":0}]},
   "mark":{"type":"point","shape":"M-0.93,0A0.93,1,0,1,0,0.93,0A0.93,1,0,1,0,-0.93,0Z","size":7744,"filled":false,"stroke":"#7fdede","strokeWidth":1.2,"strokeDash":[1.2,1.8],"opacity":1},
   "encoding":{"x":{"field":"x","type":"quantitative","axis":{"orient":"top","title":"I)","titleX":-36,"ticks":false}},"y":{"field":"y","type":"quantitative","axis":null}}},
  {"data":{"values":[{"x":-63.5,"x2":-50,"y":-68}]},
   "mark":{"type":"rule","color":"white","strokeWidth":2.5},
   "encoding":{"x":{"field":"x","type":"quantitative","axis":null},"x2":{"field":"x2"},"y":{"field":"y","type":"quantitative","axis":null}}}
 ],
 "resolve":{"axis":{"x":"independent"}}
},
{
 "width":140,"height":150,"title":"Without nanowires",
 "view":{"fill":"black","stroke":"#c8c8c8"},
 "layer":[
  {"data":{"values":[{"x":0,"y":0,"T":37.04}]},
   "mark":{"type":"point","shape":"M-0.95,0A0.95,1,0,1,0,0.95,0A0.95,1,0,1,0,-0.95,0Z","size":7640,"filled":true,"opacity":1,"strokeWidth":0},
   "encoding":{
    "x":{"field":"x","type":"quantitative","scale":{"domain":[-70,70],"nice":false,"zero":false},"axis":{"title":"t = 65 ms","labels":false,"ticks":false,"titleFontSize":14.5,"titleColor":"black","titlePadding":5}},
    "y":{"field":"y","type":"quantitative","scale":{"domain":[-75,75],"nice":false,"zero":false},"axis":null},
    "color":{"field":"T","type":"quantitative","scale":{"type":"linear","domain":[37,37.375,37.75,38],"range":["#000000","#ff0000","#ffff00","#ffffff"],"clamp":true,"interpolate":"rgb"},
      "legend":{"type":"gradient","orient":"left","offset":0,"padding":0,"direction":"vertical","gradientLength":150,"gradientThickness":9,"values":[37,37.2,37.4,37.6,37.8,38],"format":"~g","labelExpr":"(datum.value == 37 || datum.value == 38) ? '\u2007\u2008' + datum.label : datum.label","labelOffset":-31.5,"title":"ΔT (°C)","titleOrient":"left","titleAngle":270,"titleAnchor":"middle","titlePadding":24,"titleFontSize":10,"gradientStrokeColor":"#c0c0c0","gradientStrokeWidth":0.5}}}},
  {"data":{"values":[{"x":0,"y":0}]},
   "mark":{"type":"point","shape":"M-0.95,0A0.95,1,0,1,0,0.95,0A0.95,1,0,1,0,-0.95,0Z","size":7744,"filled":false,"stroke":"#7fdede","strokeWidth":1.2,"strokeDash":[1.2,1.8],"opacity":1},
   "encoding":{"x":{"field":"x","type":"quantitative","axis":{"orient":"top","title":"J)","titleX":-33,"ticks":false}},"y":{"field":"y","type":"quantitative","axis":null}}},
  {"data":{"values":[{"x":-63.5,"x2":-50,"y":-68}]},
   "mark":{"type":"rule","color":"white","strokeWidth":2.5},
   "encoding":{"x":{"field":"x","type":"quantitative","axis":null},"x2":{"field":"x2"},"y":{"field":"y","type":"quantitative","axis":null}}}
 ],
 "resolve":{"axis":{"x":"independent"}}
},
{
 "width":140,"height":150,"title":"With nanowires",
 "data":{"values":[{"t":0,"T":37},{"t":0.065,"T":49}]},
 "view":{"stroke":"#b4b4b4"},
 "layer":[
  {"mark":{"type":"line","color":"#0000ff","strokeWidth":1.3},
   "encoding":{"x":{"field":"t","type":"quantitative","scale":{"domain":[0,0.065],"nice":false,"zero":false},"axis":{"title":"Time (s)","values":[0,0.02,0.04,0.06],"format":"~g"}},
    "y":{"field":"T","type":"quantitative","scale":{"domain":[35,60],"nice":false,"zero":false},"axis":{"title":"Mean(ΔT)  (°C)","values":[35,40,45,50,55,60],"titlePadding":5}}}},
  {"mark":{"type":"line","color":"#0000ff","strokeWidth":1.3},
   "encoding":{"x":{"field":"t","type":"quantitative","axis":{"orient":"top","title":"K)","titleX":-29,"values":[0,0.02,0.04,0.06]}},
    "y":{"field":"T","type":"quantitative","axis":{"orient":"right","title":null,"values":[35,40,45,50,55,60]}}}}
 ],
 "resolve":{"axis":{"x":"independent","y":"independent"}}
},
{
 "width":140,"height":150,"title":"Without nanowires",
 "data":{"values":[{"t":0,"T":37},{"t":0.065,"T":37.05}]},
 "view":{"stroke":"#b4b4b4"},
 "layer":[
  {"mark":{"type":"line","color":"#0000ff","strokeWidth":1.6},
   "encoding":{"x":{"field":"t","type":"quantitative","scale":{"domain":[0,0.065],"nice":false,"zero":false},"axis":{"title":"Time (s)","values":[0,0.02,0.04,0.06],"format":"~g"}},
    "y":{"field":"T","type":"quantitative","scale":{"domain":[35,60],"nice":false,"zero":false},"axis":{"title":"Mean(ΔT)  (°C)","values":[35,40,45,50,55,60],"titlePadding":5}}}},
  {"mark":{"type":"line","color":"#0000ff","strokeWidth":1.6},
   "encoding":{"x":{"field":"t","type":"quantitative","axis":{"orient":"top","title":"L)","titleX":-23,"values":[0,0.02,0.04,0.06]}},
    "y":{"field":"T","type":"quantitative","axis":{"orient":"right","values":[35,40,45,50,55,60],"title":["400","kHz"],"titleAngle":0,"titleX":32,"titleY":44,"titleAlign":"center","titleBaseline":"middle","titleFontSize":15,"titleLineHeight":18,"titleColor":"black"}}}},
  {"mark":{"type":"line","opacity":0},
   "encoding":{"x":{"field":"t","type":"quantitative","axis":null},
    "y":{"field":"T","type":"quantitative","axis":{"orient":"right","ticks":false,"title":["5000","V/m"],"titleAngle":0,"titleX":32,"titleY":98,"titleAlign":"center","titleBaseline":"middle","titleFontSize":15,"titleLineHeight":18,"titleColor":"black"}}}}
 ],
 "resolve":{"axis":{"x":"independent","y":"independent"}}
}
]
}
